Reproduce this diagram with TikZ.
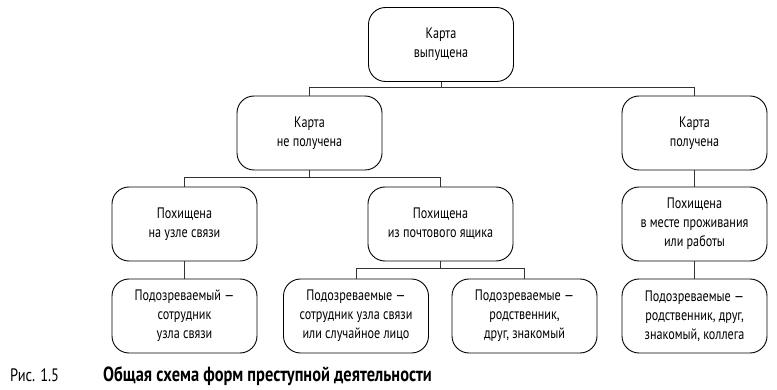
\documentclass[tikz,border=0pt]{standalone}
\usepackage{fontspec}
\setmainfont[FakeStretch=0.8]{PT Sans}
\begin{document}
\begin{tikzpicture}[x=1pt,y=-1pt,
  box/.style={draw, rounded corners=17pt, minimum width=145pt, minimum height=74pt,
    align=center, inner sep=0pt, font=\fontsize{15.2}{19}\selectfont, line width=0.9pt},
  link/.style={draw=black!80, line width=0.9pt},
  capt/.style={anchor=base west, inner sep=0pt, font=\fontsize{18}{22}\selectfont}]
\useasboundingbox (0,0) rectangle (777,390);
\node[box] (top) at (441,44.5) {Карта\\выпущена};
\node[box] (nrec) at (309.5,133) {Карта\\не получена};
\node[box] (rec) at (694.5,133) {Карта\\получена};
\node[box] (post) at (184.5,224) {Похищена\\на узле связи};
\node[box] (mbox) at (440.5,224) {Похищена\\из почтового ящика};
\node[box] (home) at (694.5,224) {Похищена\\в месте проживания\\или работы};
\node[box] (s1) at (184.5,316) {Подозреваемый —\\сотрудник\\узла связи};
\node[box] (s2) at (356,316) {Подозреваемые —\\сотрудник узла связи\\или случайное лицо};
\node[box] (s3) at (524.5,316) {Подозреваемые —\\родственник,\\друг, знакомый};
\node[box] (s4) at (694.5,316) {Подозреваемые —\\родственник, друг,\\знакомый, коллега};
\draw[link] (top.south) -- ++(0,6) -| (nrec.north);
\draw[link] (top.south) -- ++(0,6) -| (rec.north);
\draw[link] (nrec.south) -- ++(0,7) -| (post.north);
\draw[link] (nrec.south) -- ++(0,7) -| (mbox.north);
\draw[link] (mbox.south) -- ++(0,7) -| (s2.north);
\draw[link] (mbox.south) -- ++(0,7) -| (s3.north);
\draw[link] (post.south) -- (s1.north);
\draw[link] (rec.south) -- (home.north);
\draw[link] (home.south) -- (s4.north);
\node[capt] (c1) at (10,381) {Рис. 1.5};
\node[capt, font=\fontsize{20.5}{24}\selectfont\bfseries] (c2) at (103,381) {Общая схема форм преступной деятельности};
\end{tikzpicture}
\end{document}
